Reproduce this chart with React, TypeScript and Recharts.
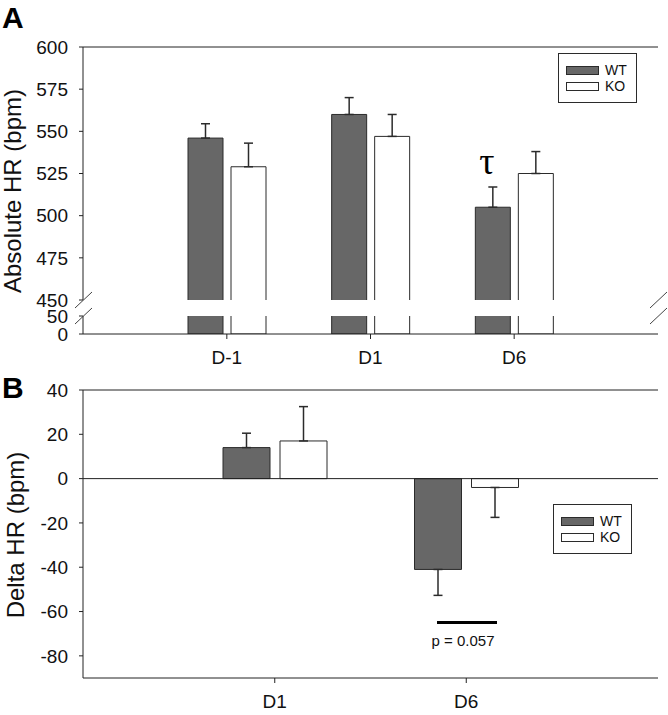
import { BarChart, Bar, XAxis, YAxis, ErrorBar, ReferenceLine, Legend, LabelList, Label } from 'recharts';

const FONT = '"Liberation Sans", Arial, Helvetica, sans-serif';
const SERIF = '"Liberation Serif", "Times New Roman", serif';
const WT_FILL = '#676767';
const EDGE = '#2b2b2b';
const AXIS = '#222';
const BAR_GAP_B = 10;

// Panel A: absolute heart rate (bpm)
const daysA = ['D-1', 'D1', 'D6'];
const wtAbs = [546, 560, 505];
const wtAbsErr = [8.5, 10, 12];
const koAbs = [529, 547, 525];
const koAbsErr = [14, 13, 13];
const sigA = ['', '', 'τ'];
const ticksAUpper = [450, 475, 500, 525, 550, 575, 600];
const ticksALower = [0, 50];

// Panel B: change in heart rate (bpm)
const daysB = ['D1', 'D6'];
const wtDelta = [14, -41];
const wtDeltaErr = [6.5, 11.7];
const koDelta = [17, -4];
const koDeltaErr = [15.5, 13.5];
const ticksB = [-80, -60, -40, -20, 0, 20, 40];

// WT vs KO comparison under D6
const pNoteB = ['', 'p = 0.057'];
const pLevelB = [0, -65];

// one-sided error bars pointing away from zero
const oneSided = (v: number, e: number) => (v >= 0 ? [0, e] : [e, 0]);

const dataA = daysA.map((day, i) => ({
  day,
  wt: wtAbs[i],
  ko: koAbs[i],
  wtErr: oneSided(wtAbs[i], wtAbsErr[i]),
  koErr: oneSided(koAbs[i], koAbsErr[i]),
  sig: sigA[i],
}));

const dataB = daysB.map((day, i) => ({
  day,
  wt: wtDelta[i],
  ko: koDelta[i],
  wtErr: oneSided(wtDelta[i], wtDeltaErr[i]),
  koErr: oneSided(koDelta[i], koDeltaErr[i]),
  pNote: pNoteB[i],
}));

const tickStyle = { fill: '#111', fontSize: 19, fontFamily: FONT };
const axisLine = { stroke: AXIS, strokeWidth: 1 };

// bar without its bottom edge (upper half of the broken axis)
const OpenBar = (props: any) => {
  const { x, y, width, height, fill, stroke } = props;
  return (
    <g>
      <rect x={x} y={y} width={width} height={height} fill={fill} />
      <path d={`M${x},${y + height}V${y}H${x + width}V${y + height}`} fill="none" stroke={stroke} />
    </g>
  );
};

const SigMark = (props: any) => {
  const { x, y, width, value } = props;
  if (!value) return null;
  return (
    <text x={x + width / 2 - 6} y={y - 33} textAnchor="middle" fontFamily={SERIF} fontSize={38} fill="#000">
      {value}
    </text>
  );
};

// bracket from the WT bar centre to the KO bar centre, at the pLevel value
const PBracket = (props: any) => {
  const { x, y, width, height, index, value } = props;
  if (!value) return null;
  const v = wtDelta[index];
  const ppu = Math.abs(height) / Math.abs(v);
  const zeroY = v < 0 ? Math.min(y, y + height) : Math.max(y, y + height);
  const ly = zeroY - pLevelB[index] * ppu;
  const x1 = x + width / 2 - 1;
  const x2 = x + width * 1.5 + BAR_GAP_B + 2;
  return (
    <g>
      <line x1={x1} x2={x2} y1={ly} y2={ly} stroke="#000" strokeWidth={3} />
      <text x={(x1 + x2) / 2 - 4} y={ly + 23} textAnchor="middle" fontSize={15} fontFamily={FONT} fill="#111">
        {value}
      </text>
    </g>
  );
};

const LegendBox = () => (
  <svg width={80} height={51} style={{ display: 'block' }}>
    <rect x={0.5} y={0.5} width={78} height={49} fill="#fff" stroke={EDGE} />
    <rect x={8.5} y={13.5} width={32} height={8} fill={WT_FILL} stroke={EDGE} />
    <rect x={8.5} y={29.5} width={32} height={8} fill="#fff" stroke={EDGE} />
    <text x={47} y={22} fontSize={14} fontFamily={FONT} fill="#111">WT</text>
    <text x={47} y={38} fontSize={14} fontFamily={FONT} fill="#111">KO</text>
  </svg>
);

const AxisTitle = (x: number, y: number, text: string) => () => (
  <text x={x} y={y} transform={`rotate(-90 ${x} ${y})`} textAnchor="middle" fontSize={24} fontFamily={FONT} fill="#111">
    {text}
  </text>
);

export default function App() {
  return (
    <div style={{ position: 'relative', width: 668, height: 715, background: '#fff', fontFamily: FONT }}>
      <style>{'body{margin:0}'}</style>

      {/* Panel A, upper part of the broken axis */}
      <div style={{ position: 'absolute', left: 0, top: 0 }}>
        <BarChart width={668} height={310} data={dataA} margin={{ top: 47, right: 10, bottom: 10, left: 0 }} barSize={35} barGap={8}>
          <XAxis dataKey="day" hide padding={{ left: 72, right: 72 }} />
          <YAxis
            domain={[450, 600]}
            ticks={ticksAUpper}
            interval={0}
            allowDataOverflow
            width={83}
            tickSize={4}
            tickMargin={11}
            tick={tickStyle}
            axisLine={axisLine}
            tickLine={axisLine}
            label={<Label content={AxisTitle(21, 191, 'Absolute HR (bpm)')} />}
          />
          <YAxis yAxisId="r" orientation="right" domain={[450, 600]} width={0} tick={false} tickLine={false} axisLine={axisLine} />
          <ReferenceLine y={600} stroke={AXIS} />
          <Legend content={<LegendBox />} layout="horizontal" align="center" verticalAlign="middle" wrapperStyle={{ left: 558, top: 53, width: 'auto' }} />
          <Bar dataKey="wt" name="WT" fill={WT_FILL} stroke={EDGE} shape={<OpenBar />} isAnimationActive={false}>
            <ErrorBar dataKey="wtErr" width={4.5} stroke={EDGE} strokeWidth={1.5} isAnimationActive={false} />
            <LabelList dataKey="sig" content={<SigMark />} />
          </Bar>
          <Bar dataKey="ko" name="KO" fill="#fff" stroke={EDGE} shape={<OpenBar />} isAnimationActive={false}>
            <ErrorBar dataKey="koErr" width={4.5} stroke={EDGE} strokeWidth={1.5} isAnimationActive={false} />
          </Bar>
        </BarChart>
      </div>

      {/* Panel A, lower part of the broken axis */}
      <div style={{ position: 'absolute', left: 0, top: 306 }}>
        <BarChart width={668} height={68} data={dataA} margin={{ top: 10, right: 10, bottom: 0, left: 0 }} barSize={35} barGap={8}>
          <XAxis dataKey="day" padding={{ left: 72, right: 72 }} height={40} tickSize={5} tickMargin={12} tick={tickStyle} axisLine={axisLine} tickLine={axisLine} />
          <YAxis domain={[0, 50]} ticks={ticksALower} interval={0} allowDataOverflow width={83} tickSize={4} tickMargin={11} tick={tickStyle} axisLine={axisLine} tickLine={axisLine} />
          <YAxis yAxisId="r" orientation="right" domain={[0, 50]} width={0} tick={false} tickLine={false} axisLine={axisLine} />
          <Bar dataKey="wt" fill={WT_FILL} stroke={EDGE} isAnimationActive={false} />
          <Bar dataKey="ko" fill="#fff" stroke={EDGE} isAnimationActive={false} />
        </BarChart>
      </div>

      {/* Panel B */}
      <div style={{ position: 'absolute', left: 0, top: 380 }}>
        <BarChart width={668} height={335} data={dataB} margin={{ top: 10, right: 10, bottom: 0, left: 0 }} barSize={47} barGap={BAR_GAP_B}>
          <XAxis dataKey="day" padding={{ left: 96, right: 96 }} height={37} tickSize={5} tickMargin={12} tick={tickStyle} axisLine={axisLine} tickLine={axisLine} />
          <YAxis
            domain={[-90, 40]}
            ticks={ticksB}
            interval={0}
            width={83}
            tickSize={4}
            tickMargin={11}
            tick={tickStyle}
            axisLine={axisLine}
            tickLine={axisLine}
            label={<Label content={AxisTitle(24, 155, 'Delta HR (bpm)')} />}
          />
          <YAxis yAxisId="r" orientation="right" domain={[-90, 40]} width={0} tick={false} tickLine={false} axisLine={axisLine} />
          <ReferenceLine y={40} stroke={AXIS} />
          <ReferenceLine y={0} stroke={AXIS} />
          <Legend content={<LegendBox />} layout="horizontal" align="center" verticalAlign="middle" wrapperStyle={{ left: 553, top: 124, width: 'auto' }} />
          <Bar dataKey="wt" name="WT" fill={WT_FILL} stroke={EDGE} isAnimationActive={false}>
            <ErrorBar dataKey="wtErr" width={4.5} stroke={EDGE} strokeWidth={1.5} isAnimationActive={false} />
            <LabelList dataKey="pNote" content={<PBracket />} />
          </Bar>
          <Bar dataKey="ko" name="KO" fill="#fff" stroke={EDGE} isAnimationActive={false}>
            <ErrorBar dataKey="koErr" width={4.5} stroke={EDGE} strokeWidth={1.5} isAnimationActive={false} />
          </Bar>
        </BarChart>
      </div>

      {/* panel letters and axis-break marks */}
      <svg width={668} height={715} style={{ position: 'absolute', left: 0, top: 0, pointerEvents: 'none' }}>
        <text x={2} y={28} fontSize={30} fontWeight="bold" fontFamily={FONT} fill="#000">A</text>
        <text x={2} y={398} fontSize={30} fontWeight="bold" fontFamily={FONT} fill="#000">B</text>
        <g stroke="#444" strokeWidth={1}>
          <line x1={75} y1={308} x2={92} y2={292} />
          <line x1={75} y1={324} x2={92} y2={308} />
          <line x1={650} y1={308} x2={667} y2={292} />
          <line x1={650} y1={324} x2={667} y2={308} />
        </g>
      </svg>
    </div>
  );
}
